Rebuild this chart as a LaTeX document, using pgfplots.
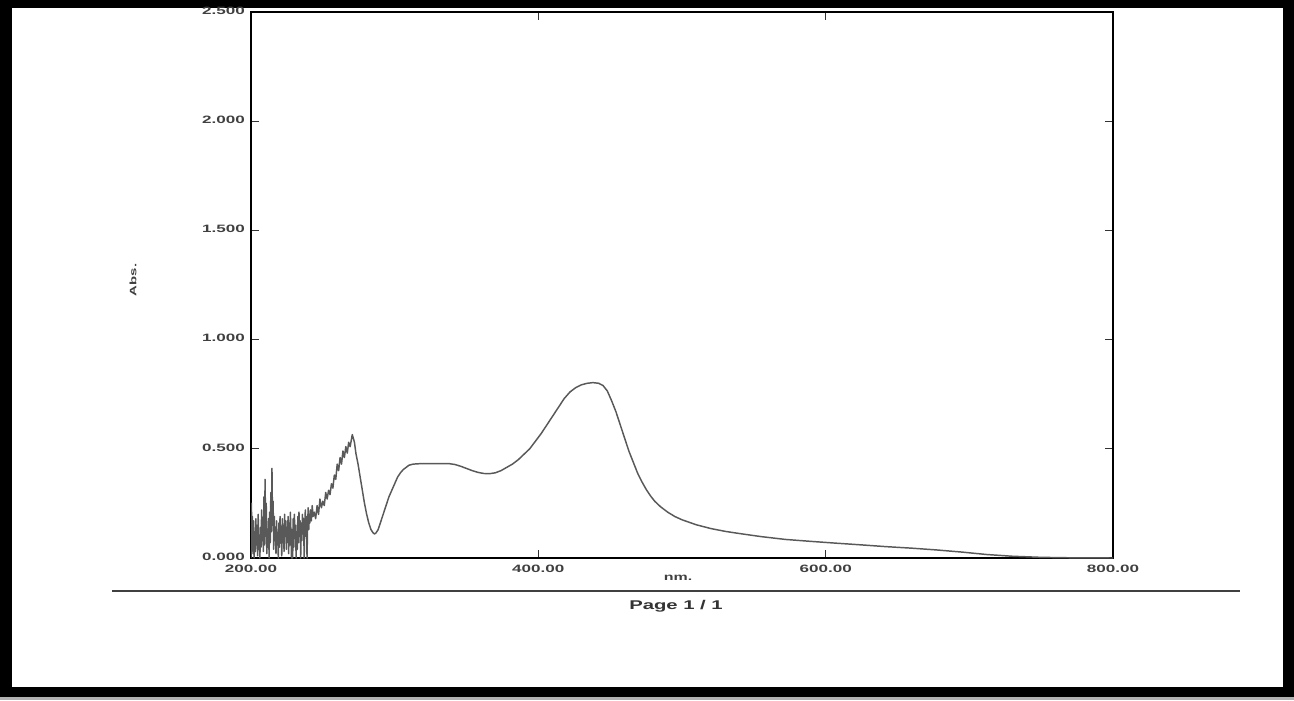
\documentclass[border=0pt]{standalone}
\usepackage{pgfplots}
\pgfplotsset{compat=1.18}
\usepackage{pgfplotstable}
\usepackage{fontspec}
\setmainfont{Liberation Sans}
\newfontfamily\lab[FakeStretch=1.6]{Liberation Sans}
\newfontfamily\labb[FakeStretch=1.6]{Liberation Sans Bold}

\pgfplotstableread{
nm A
200.0 0.00
200.3 0.25
200.6 0.05
201.0 0.19
201.4 0.02
201.8 0.17
202.2 0.00
202.6 0.12
203.0 0.03
203.4 0.18
203.8 0.06
204.2 0.15
204.6 0.01
205.0 0.20
205.4 0.04
205.8 0.10
206.2 0.00
206.6 0.14
207.0 0.05
207.4 0.22
207.8 0.08
208.2 0.16
208.6 0.03
209.0 0.28
209.4 0.06
209.8 0.36
210.2 0.10
210.6 0.25
211.0 0.02
211.4 0.13
211.8 0.05
212.2 0.18
212.6 0.00
213.0 0.21
213.4 0.07
213.8 0.30
214.2 0.12
214.6 0.41
215.0 0.15
215.4 0.26
215.8 0.04
216.2 0.19
216.6 0.08
217.0 0.14
217.4 0.02
217.8 0.17
218.2 0.06
218.6 0.11
219.0 0.00
219.4 0.16
219.8 0.05
220.2 0.19
220.6 0.09
221.0 0.13
221.4 0.01
221.8 0.18
222.2 0.07
222.6 0.15
223.0 0.03
223.4 0.20
223.8 0.10
224.2 0.17
224.6 0.04
225.0 0.14
225.4 0.08
225.8 0.19
226.2 0.02
226.6 0.16
227.0 0.06
227.4 0.21
227.8 0.11
228.2 0.00
228.6 0.13
229.0 0.00
229.4 0.18
229.8 0.05
230.2 0.20
230.6 0.09
231.0 0.15
231.4 0.00
231.8 0.12
232.2 0.04
232.6 0.19
233.0 0.07
233.4 0.21
233.8 0.12
234.2 0.17
234.6 0.00
235.0 0.16
235.4 0.08
235.8 0.20
236.2 0.11
236.6 0.18
237.0 0.00
237.4 0.14
237.8 0.22
238.2 0.10
238.6 0.19
239.0 0.00
239.4 0.15
239.8 0.23
240.2 0.13
240.6 0.20
241.0 0.16
241.4 0.22
242.0 0.17
242.6 0.24
243.2 0.19
244.0 0.21
245.0 0.18
246.0 0.24
247.0 0.20
248.0 0.27
249.0 0.23
250.0 0.26
251.0 0.24
252.0 0.30
253.0 0.27
254.0 0.31
255.0 0.29
256.0 0.34
257.0 0.32
258.0 0.38
259.0 0.36
260.0 0.43
261.0 0.40
262.0 0.46
263.0 0.43
264.0 0.49
265.0 0.46
266.0 0.51
267.0 0.48
268.0 0.53
269.0 0.51
270.5 0.565
272.0 0.53
273.0 0.48
274.5 0.43
276.0 0.37
277.5 0.31
279.0 0.25
280.5 0.20
282.0 0.16
283.5 0.13
285.0 0.115
286.0 0.11
287.0 0.115
288.5 0.13
290.0 0.16
292.0 0.20
294.0 0.24
296.0 0.28
298.0 0.31
300.0 0.34
302.0 0.37
304.0 0.39
306.0 0.405
308.0 0.415
310.0 0.425
313.0 0.43
318.0 0.432
325.0 0.432
332.0 0.432
338.0 0.432
342.0 0.428
346.0 0.42
350.0 0.41
354.0 0.40
358.0 0.392
362.0 0.387
366.0 0.386
370.0 0.39
374.0 0.40
378.0 0.415
382.0 0.43
386.0 0.45
390.0 0.475
394.0 0.50
398.0 0.535
402.0 0.57
406.0 0.61
410.0 0.65
414.0 0.69
418.0 0.73
422.0 0.76
426.0 0.78
430.0 0.793
434.0 0.80
438.0 0.803
442.0 0.80
445.0 0.79
448.0 0.765
451.0 0.72
454.0 0.67
457.0 0.61
460.0 0.55
463.0 0.49
466.0 0.44
469.0 0.39
472.0 0.35
475.0 0.315
478.0 0.285
481.0 0.26
485.0 0.235
490.0 0.21
495.0 0.19
500.0 0.175
510.0 0.152
520.0 0.135
530.0 0.122
540.0 0.112
555.0 0.098
572.0 0.085
590.0 0.076
607.0 0.068
625.0 0.06
642.0 0.052
660.0 0.045
677.0 0.037
695.0 0.027
712.0 0.016
730.0 0.008
750.0 0.003
770.0 0.001
800.0 0.0
}\spectrum

\begin{document}
\begin{tikzpicture}[x=0.75pt,y=0.75pt]
% scan frame
\fill[gray!60] (0,0) rectangle (1294,700);
\fill[black] (0,3) rectangle (1294,700);
\fill[white] (12,13) rectangle (1283,692);
% rule and footer
\draw[line width=1.4pt, black!75] (112,109) -- (1240,109);
\node[font=\fontsize{9.5}{11}\labb, text=black!80] at (676,94) {Page 1 / 1};
\node[font=\fontsize{7.5}{9}\labb, text=black!75] at (678,122) {nm.};
\node[font=\fontsize{7}{8}\labb, text=black!75, rotate=90] at (133,420) {Abs.};
\begin{axis}[
  at={(188.25pt,106.5pt)}, anchor=south west,
  scale only axis, width=646.5pt, height=409.5pt,
  xmin=200, xmax=800, ymin=0, ymax=2.5,
  axis line style={line width=1.5pt, black},
  xtick={200,400,600,800},
  xticklabels={200.00,400.00,600.00,800.00},
  ytick={0,0.5,1,1.5,2,2.5},
  yticklabels={0.000,0.500,1.000,1.500,2.000,2.500},
  major tick length=6pt,
  tick style={line width=0.8pt, black!80},
  tick label style={font=\fontsize{8}{9}\labb, text=black!75},
  xticklabel style={yshift=-1.5pt},
  yticklabel style={xshift=-1pt, yshift=1pt},
  clip=true,
]
\addplot[line width=1.1pt, black!65, line join=round] table[x=nm, y=A] {\spectrum};
\end{axis}
\end{tikzpicture}
\end{document}
